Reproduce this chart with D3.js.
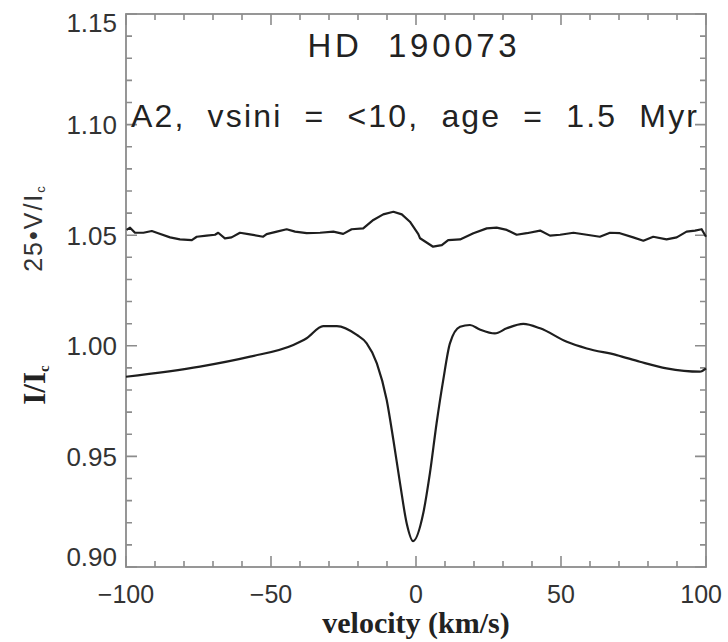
<!DOCTYPE html>
<html>
<head>
<meta charset="utf-8">
<script src="https://cdn.jsdelivr.net/npm/d3@7"></script>
<style>
  body { margin: 0; background: #fff; }
  svg { display: block; }
</style>
</head>
<body>
<svg width="728" height="642"></svg>
<script>
// Stokes I profile (velocity km/s, I/Ic)
const iVel = [-100, -74.5, -57.2, -42.3, -37.7, -32, -27.3, -20.4, -17, -13.5, -10.1, -7.8, -5.5, -3.2, -1,
  2.5, 4.8, 7.1, 9.4, 11.7, 15.2, 18.6, 22, 27.2, 31.3, 37, 42.8, 52, 58.9, 69.2, 77.2, 86.4, 97.9, 100];
const iFlux = [0.986, 0.9906, 0.9951, 1.0004, 1.0034, 1.0089, 1.0089, 1.0049, 1.0011, 0.9921, 0.9755, 0.9574, 0.9378, 0.9197, 0.9117,
  0.9243, 0.9424, 0.965, 0.9846, 1.0011, 1.0086, 1.0094, 1.0074, 1.0056, 1.0079, 1.0099, 1.0079, 1.0018, 0.9988, 0.9958, 0.9928, 0.9898, 0.9883, 0.9898];

// Stokes V profile, shown as 1.05 + 25*V/Ic
const vVel = [-99.8, -98.6, -96.9, -94, -91.1, -88.9, -84.8, -81.4, -77.3, -75.6, -72.2, -69.3, -68.2, -65.9, -63.6,
  -60.7, -57.8, -52.7, -51.5, -48, -44.6, -41.7, -37.7, -33.1, -28.5, -25.1, -22.2, -18.2, -14.7, -11.3, -7.8,
  -4.9, -2.1, 0.8, 1.4, 5.9, 8.9, 11.1, 15.2, 19.8, 24.4, 27.8, 31.3, 34.7, 38.2, 42.8, 46.2, 49.7, 54.3, 58.9,
  63.4, 66.9, 70.3, 74.9, 78.4, 81.8, 86.4, 89.9, 93.3, 96.2, 98.5, 100];
const vFlux = [1.0524, 1.0534, 1.0511, 1.0511, 1.0519, 1.0509, 1.049, 1.0481, 1.0478, 1.0493, 1.0498, 1.0502, 1.0511, 1.0486, 1.049,
  1.0511, 1.0505, 1.0493, 1.0505, 1.0516, 1.0527, 1.0516, 1.0509, 1.0511, 1.0516, 1.0506, 1.0527, 1.0531, 1.0569, 1.0594, 1.0606,
  1.0594, 1.0561, 1.0505, 1.0486, 1.0448, 1.0455, 1.0478, 1.0481, 1.0509, 1.0531, 1.0534, 1.0524, 1.0502, 1.0509, 1.0521, 1.0498, 1.0502, 1.0511, 1.0502,
  1.0493, 1.0511, 1.0509, 1.049, 1.0475, 1.0493, 1.0481, 1.049, 1.0516, 1.0521, 1.0527, 1.0493];

const xTicks = [-100, -50, 0, 50, 100];
const yTicks = [0.90, 0.95, 1.00, 1.05, 1.10, 1.15];
const title = 'HD  190073';
const subtitle = 'A2,  vsini  =  <10,  age  =  1.5  Myr';

const svg = d3.select('svg');
const margin = { top: 14, right: 22, bottom: 75, left: 126 };
const width = 728 - margin.left - margin.right;
const height = 642 - margin.top - margin.bottom;
const axisColor = '#8c8c8c';

const g = svg.append('g').attr('transform', `translate(${margin.left},${margin.top})`);

const x = d3.scaleLinear().domain([-100, 100]).range([0, width]);
const y = d3.scaleLinear().domain([0.90, 1.15]).range([height, 0]);

const minorX = d3.range(-100, 101, 10);
const minorY = d3.range(0, 26).map((i) => 0.90 + i * 0.01);
const isMajor = (v, step) => Math.abs(v / step - Math.round(v / step)) < 1e-6;
const tickLen = (v, step) => (isMajor(v, step) ? 11 : 6);

// inward ticks on all four sides, IDL style
const xTickPath = d3.path();
minorX.forEach((d) => {
  xTickPath.moveTo(x(d), height);
  xTickPath.lineTo(x(d), height - tickLen(d, 50));
  xTickPath.moveTo(x(d), 0);
  xTickPath.lineTo(x(d), tickLen(d, 50));
});
const yTickPath = d3.path();
minorY.forEach((d) => {
  yTickPath.moveTo(0, y(d));
  yTickPath.lineTo(tickLen(d, 0.05), y(d));
  yTickPath.moveTo(width, y(d));
  yTickPath.lineTo(width - tickLen(d, 0.05), y(d));
});
[xTickPath, yTickPath].forEach((p) => {
  g.append('path')
    .attr('d', p.toString())
    .attr('fill', 'none')
    .attr('stroke', axisColor)
    .attr('stroke-width', 1.6);
});

g.append('rect')
  .attr('width', width)
  .attr('height', height)
  .attr('fill', 'none')
  .attr('stroke', axisColor)
  .attr('stroke-width', 1.8);

// tick labels
const labelFont = "'Liberation Sans', Arial, sans-serif";
g.append('g').selectAll('text')
  .data(xTicks)
  .join('text')
  .attr('x', (d) => x(d))
  .attr('y', height + 36)
  .attr('text-anchor', (d, i) => (i === xTicks.length - 1 ? 'end' : 'middle'))
  .attr('dx', (d, i) => (i === xTicks.length - 1 ? 16 : 0))
  .attr('font-family', labelFont)
  .attr('font-size', 25)
  .attr('fill', '#333')
  .text((d) => (d < 0 ? `\u2212${Math.abs(d)}` : d));

g.append('g').selectAll('text')
  .data(yTicks)
  .join('text')
  .attr('x', -9)
  .attr('y', (d) => y(d))
  .attr('dy', (d, i) => {
    if (i === 0) return '-0.05em';
    if (i === yTicks.length - 1) return '0.7em';
    return '0.36em';
  })
  .attr('text-anchor', 'end')
  .attr('font-family', labelFont)
  .attr('font-size', 26)
  .attr('fill', '#333')
  .text((d) => d.toFixed(2));

// profiles
const line = d3.line().x((d) => x(d[0])).y((d) => y(d[1]));
g.append('path')
  .datum(d3.zip(iVel, iFlux))
  .attr('fill', 'none')
  .attr('stroke', '#1e1e1e')
  .attr('stroke-width', 2.2)
  .attr('d', line.curve(d3.curveMonotoneX));

g.append('path')
  .datum(d3.zip(vVel, vFlux))
  .attr('fill', 'none')
  .attr('stroke', '#1e1e1e')
  .attr('stroke-width', 2.2)
  .attr('stroke-linejoin', 'round')
  .attr('d', line.curve(d3.curveLinear));

// titles
svg.append('text')
  .attr('x', 412)
  .attr('y', 57)
  .attr('text-anchor', 'middle')
  .style('white-space', 'pre')
  .attr('font-family', labelFont)
  .attr('font-size', 33)
  .attr('fill', '#222')
  .attr('textLength', 209)
  .attr('lengthAdjust', 'spacing')
  .text(title);

svg.append('text')
  .attr('x', 131)
  .attr('y', 127)
  .style('white-space', 'pre')
  .attr('font-family', labelFont)
  .attr('font-size', 32)
  .attr('fill', '#222')
  .attr('textLength', 566)
  .attr('lengthAdjust', 'spacing')
  .text(subtitle);

// axis titles
svg.append('text')
  .attr('x', 416)
  .attr('y', 633)
  .attr('text-anchor', 'middle')
  .attr('font-family', "'Liberation Serif', 'Times New Roman', serif")
  .attr('font-weight', 'bold')
  .attr('font-size', 30)
  .attr('fill', '#222')
  .text('velocity (km/s)');

const iLabel = svg.append('text')
  .attr('transform', 'translate(45,385) rotate(-90)')
  .attr('text-anchor', 'middle')
  .attr('font-family', "'Liberation Serif', 'Times New Roman', serif")
  .attr('font-weight', 'bold')
  .attr('font-size', 31)
  .attr('fill', '#222');
iLabel.append('tspan').text('I/I');
iLabel.append('tspan').attr('font-size', 15).attr('dy', 4).text('c');

const vLabel = svg.append('text')
  .attr('transform', 'translate(42,228) rotate(-90)')
  .attr('text-anchor', 'middle')
  .attr('font-family', labelFont)
  .attr('font-size', 25)
  .attr('letter-spacing', 2)
  .attr('fill', '#333');
vLabel.append('tspan').text('25\u2022V/I');
vLabel.append('tspan').attr('font-size', 13).attr('dy', 3).text('c');
</script>
</body>
</html>
